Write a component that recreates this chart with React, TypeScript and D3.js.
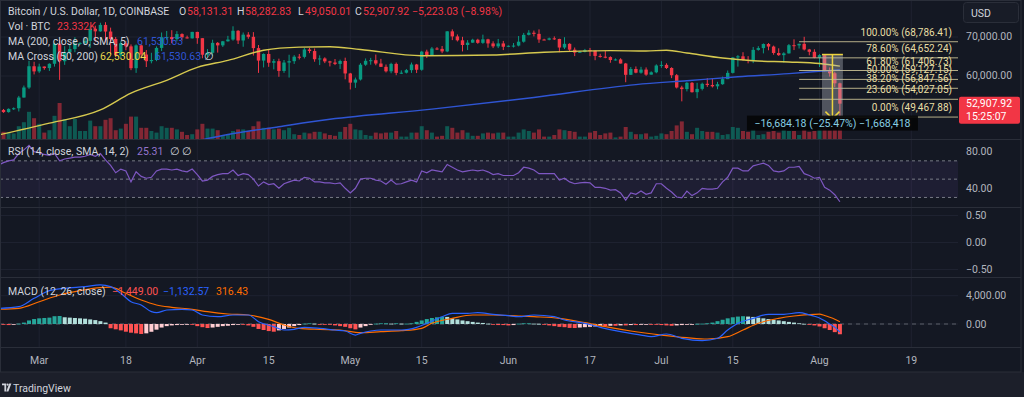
import React from "react";
import * as d3 from "d3";

// first candle (daily bars, UTC)
const firstDay = new Date(Date.UTC(2024, 1, 23));

// OHLC in thousands of USD, Feb 23 .. Aug 5 2024
const opens = [
  51.30, 50.74, 51.57, 51.73, 54.48, 57.05, 62.50,
  61.18, 62.43, 62.03, 63.13, 68.30, 63.78, 66.10, 66.90, 68.30, 68.48, 69.00, 72.10, 71.45, 73.10, 71.40, 69.50, 65.30, 68.40, 67.60, 62.00, 67.85, 65.50, 63.80, 64.10, 67.20, 69.95, 69.99, 69.45, 70.75, 69.90, 69.65,
  71.30, 69.70, 65.45, 65.95, 68.50, 67.85, 68.90, 69.35, 71.60, 69.10, 70.60, 70.05, 67.15, 63.95, 65.65, 63.40, 63.80, 61.30, 63.45, 63.80, 64.95, 64.90, 66.80, 66.40, 64.30, 64.50, 63.75, 63.45, 63.10, 63.85,
  60.65, 58.30, 59.10, 62.90, 63.90, 64.05, 63.20, 62.35, 61.20, 63.10, 60.80, 60.85, 61.50, 62.95, 61.60, 66.25, 65.25, 67.05, 66.95, 66.30, 71.45, 70.15, 69.15, 67.95, 68.55, 69.30, 68.50, 69.40, 68.35, 67.60, 68.35,
  67.50, 67.75, 67.80, 68.80, 70.55, 71.10, 70.80, 69.35, 69.30, 69.65, 69.50, 67.30, 68.25, 66.75, 66.00, 66.20, 66.65, 66.50, 65.15, 64.95, 64.85, 64.10, 64.25, 63.20, 60.30, 61.80, 60.85, 61.65, 60.35, 60.95,
  62.70, 62.85, 62.05, 60.20, 57.05, 56.65, 58.25, 55.85, 56.70, 58.00, 57.70, 57.35, 57.90, 59.20, 60.80, 64.75, 65.05, 64.10, 63.95, 66.70, 67.15, 68.20, 67.55, 65.90, 65.35, 65.80, 67.90, 67.85, 68.25, 66.80, 66.20,
  64.65, 65.35, 61.45, 60.70, 58.13131,
];
const highs = [
  51.55, 51.70, 51.95, 54.90, 57.55, 63.90, 63.65,
  63.15, 62.45, 63.25, 68.55, 69.20, 67.65, 67.99, 69.95, 68.65, 69.95, 72.80, 72.90, 73.65, 73.80, 72.40, 70.00, 68.90, 68.95, 68.10, 68.10, 68.20, 66.65, 65.95, 67.60, 71.15, 71.55, 71.75, 71.50, 70.95, 70.35, 71.35,
  71.35, 69.70, 66.90, 69.30, 68.70, 69.00, 70.30, 72.75, 71.75, 71.15, 71.25, 71.25, 67.95, 65.80, 66.90, 64.35, 64.45, 64.10, 65.45, 65.35, 65.65, 67.20, 67.20, 67.05, 65.30, 64.80, 63.90, 64.35, 64.20, 64.70,
  60.80, 59.60, 63.30, 64.50, 64.65, 65.50, 64.40, 62.95, 63.40, 63.45, 61.45, 61.80, 63.45, 63.10, 66.45, 66.75, 67.45, 67.40, 67.70, 71.50, 71.95, 70.65, 70.05, 69.20, 69.55, 69.55, 70.60, 69.55, 68.90, 69.50, 69.00,
  67.85, 68.45, 70.25, 71.05, 71.75, 71.65, 71.95, 69.55, 69.85, 70.15, 69.55, 69.95, 68.40, 67.30, 66.45, 66.95, 67.20, 66.55, 65.70, 66.45, 65.05, 64.50, 64.55, 63.35, 62.30, 62.45, 62.35, 62.20, 61.20, 63.00,
  63.80, 63.25, 62.25, 60.50, 57.50, 58.45, 58.45, 58.25, 58.30, 59.45, 59.45, 58.50, 59.85, 61.40, 64.85, 65.35, 66.10, 65.10, 67.45, 67.65, 68.35, 68.45, 67.80, 67.10, 66.10, 68.20, 69.40, 68.30, 70.05, 66.95, 66.85,
  65.60, 65.60, 62.20, 61.10, 58.28283,
];
const lows = [
  50.55, 50.60, 51.28, 50.90, 54.45, 56.70, 60.40,
  60.80, 61.60, 61.30, 62.40, 59.00, 62.85, 65.60, 66.10, 68.00, 68.10, 67.20, 68.80, 71.35, 68.60, 65.60, 64.80, 64.60, 66.60, 61.50, 60.80, 64.50, 62.30, 63.25, 63.80, 66.40, 69.30, 68.40, 68.90, 69.05, 69.60, 69.60,
  68.25, 64.55, 64.50, 65.10, 66.00, 67.45, 68.80, 69.05, 68.20, 67.50, 69.55, 65.25, 60.80, 62.20, 62.35, 61.70, 59.80, 60.80, 59.60, 63.10, 64.25, 64.50, 65.85, 63.65, 62.80, 63.30, 62.45, 62.80, 61.80, 59.15,
  56.55, 56.95, 58.85, 62.60, 62.90, 62.75, 62.30, 60.90, 60.70, 60.20, 60.50, 60.65, 60.80, 60.75, 61.35, 64.60, 65.15, 66.65, 65.85, 66.10, 69.20, 68.85, 66.30, 66.65, 68.50, 68.25, 68.25, 67.25, 67.15, 67.15, 66.65,
  67.40, 67.30, 67.60, 68.55, 70.40, 70.15, 68.50, 69.20, 69.15, 69.25, 66.10, 66.90, 66.30, 65.10, 65.90, 66.05, 65.10, 64.05, 64.70, 64.55, 63.40, 63.95, 63.20, 58.40, 60.25, 60.70, 60.60, 60.05, 60.35, 60.70,
  62.10, 61.80, 59.45, 56.80, 53.50, 56.05, 55.75, 54.30, 56.30, 57.20, 57.05, 56.60, 57.75, 59.20, 60.65, 62.40, 63.95, 63.25, 63.30, 66.50, 65.80, 66.60, 65.45, 65.15, 63.45, 65.75, 66.65, 67.05, 66.55, 65.30, 64.55,
  62.30, 61.20, 59.85, 57.15, 49.05001,
];
const closes = [
  50.74, 51.57, 51.73, 54.48, 57.05, 62.50, 61.18,
  62.43, 62.03, 63.13, 68.30, 63.78, 66.10, 66.90, 68.30, 68.48, 69.00, 72.10, 71.45, 73.10, 71.40, 69.50, 65.30, 68.40, 67.60, 62.00, 67.85, 65.50, 63.80, 64.10, 67.20, 69.95, 69.99, 69.45, 70.75, 69.90, 69.65, 71.30,
  69.70, 65.45, 65.95, 68.50, 67.85, 68.90, 69.35, 71.60, 69.10, 70.60, 70.05, 67.15, 63.95, 65.65, 63.40, 63.80, 61.30, 63.45, 63.80, 64.95, 64.90, 66.80, 66.40, 64.30, 64.50, 63.75, 63.45, 63.10, 63.85, 60.65,
  58.30, 59.10, 62.90, 63.90, 64.05, 63.20, 62.35, 61.20, 63.10, 60.80, 60.85, 61.50, 62.95, 61.60, 66.25, 65.25, 67.05, 66.95, 66.30, 71.45, 70.15, 69.15, 67.95, 68.55, 69.30, 68.50, 69.40, 68.35, 67.60, 68.35, 67.50,
  67.75, 67.80, 68.80, 70.55, 71.10, 70.80, 69.35, 69.30, 69.65, 69.50, 67.30, 68.25, 66.75, 66.00, 66.20, 66.65, 66.50, 65.15, 64.95, 64.85, 64.10, 64.25, 63.20, 60.30, 61.80, 60.85, 61.65, 60.35, 60.95, 62.70,
  62.85, 62.05, 60.20, 57.05, 56.65, 58.25, 55.85, 56.70, 58.00, 57.70, 57.35, 57.90, 59.20, 60.80, 64.75, 65.05, 64.10, 63.95, 66.70, 67.15, 68.20, 67.55, 65.90, 65.35, 65.80, 67.90, 67.85, 68.25, 66.80, 66.20, 64.65,
  65.35, 61.45, 60.70, 58.13095, 52.90792,
];
// volume, thousands of BTC
const volumes = [
  9, 8, 7, 16, 21, 34, 26,
  19, 8, 11, 29, 45, 25, 16, 25, 10, 10, 23, 16, 16, 24, 26, 11, 13, 19, 28, 28, 14, 14, 10, 8, 16, 14, 14, 12, 9, 5, 6,
  12, 19, 13, 13, 11, 5, 5, 10, 12, 12, 10, 16, 22, 14, 14, 12, 13, 11, 14, 6, 5, 8, 7, 9, 9, 7, 5, 4, 9, 15,
  19, 12, 11, 5, 4, 8, 7, 8, 8, 10, 3, 3, 8, 8, 16, 11, 8, 3, 4, 16, 14, 8, 11, 8, 4, 4, 7, 8, 7, 8, 8,
  3, 3, 8, 12, 10, 8, 12, 3, 3, 5, 12, 11, 10, 9, 3, 3, 8, 10, 5, 7, 8, 2, 3, 15, 9, 6, 6, 7, 3, 4,
  7, 6, 10, 17, 22, 9, 6, 14, 10, 9, 9, 8, 5, 6, 15, 14, 10, 9, 12, 5, 6, 9, 10, 8, 12, 10, 10, 5, 13, 9, 10,
  14, 16, 11, 12, 23.332,
];

// moving averages (day index from firstDay, value in thousands)
const ma50Days = [-1, 9, 19, 25, 32, 38, 44, 51, 58, 64, 70, 82, 96, 106, 119, 126, 130, 134, 141, 147, 154, 160, 164];
const ma50Values = [44.87, 47.9, 51.3, 55.6, 58.9, 62.2, 64.0, 66.6, 67.4, 67.5, 66.8, 65.2, 65.4, 66.1, 66.5, 66.4, 66.6, 65.9, 64.6, 63.9, 63.6, 63.2, 62.53004];
const ma200Days = [36, 44, 54, 64, 84, 104, 124, 134, 144, 154, 160, 164];
const ma200Values = [42.8, 45.0, 47.0, 48.9, 51.5, 54.5, 57.8, 58.8, 59.8, 60.6, 61.2, 61.53063];

// RSI(14), one value per day starting at day -1
const rsiValues = [
  65.5, 68, 70, 71, 78, 82, 87, 80,
  79, 77, 76, 78, 70, 72, 73, 74, 74, 75, 77, 75, 78, 71, 65, 57, 61, 59, 47, 58, 53, 51, 52, 59, 61, 61, 60, 61, 59, 58, 61,
  55, 48, 49, 53, 55, 56, 56, 60, 54, 56, 55, 50, 42.5, 47, 44, 45, 40, 45, 47, 49, 48, 52, 51, 47, 47, 46, 46, 45, 46, 40,
  35, 40, 50, 51, 51, 49, 48, 44.5, 49, 44.5, 45, 47, 49, 47, 59, 57, 60, 59, 58, 66, 63, 60, 58, 59, 60, 59, 60, 58, 55, 56, 54,
  54, 54, 57, 63, 62, 60, 56, 56, 56, 56, 49, 51, 47, 45, 46, 46.5, 46, 41, 41, 40, 38, 38.5, 35, 27, 35, 33.5, 37, 33.5, 35, 45,
  45, 40, 36, 30.5, 29.5, 37, 32, 35, 40, 39, 39, 40, 47, 52, 62, 62, 59, 59, 64.5, 66, 67.5, 65, 59, 58, 59, 63, 63, 64, 56, 54, 51,
  52, 41, 38, 33, 25.31,
];
const rsiLevels = [70, 50, 30];

// MACD (12, 26) and signal line, read at key days
const macdDays = [-1, 3, 6, 9, 12, 16, 19, 21, 23, 25, 27, 29, 30, 32, 35, 37, 39, 42, 45, 48, 50, 53, 55, 57, 59, 62, 65, 67, 69, 70, 72, 74, 78, 81, 83, 86, 88, 91, 93, 96, 99, 101, 104, 108, 110, 114, 117, 121, 125, 127, 130, 133, 137, 140, 142, 144, 147, 150, 153, 156, 158, 159, 160, 161, 162, 163, 164];
const macdValues = [2200, 2450, 3630, 4710, 5050, 5280, 5520, 5280, 4340, 3150, 2690, 1740, 1600, 1980, 2080, 1980, 1270, 1030, 1270, 1270, 330, -380, -850, -750, -470, -610, -850, -990, -1560, -1320, -990, -850, -850, -470, 100, 1030, 1510, 1510, 1600, 1370, 1170, 1030, 1270, 1030, 570, 100, -470, -1090, -1560, -1790, -1410, -2020, -2360, -2020, -850, 100, 800, 1370, 1370, 1600, 1300, 1100, 850, 450, 0, -450, -1132.57];
const signalDays = [-1, 3, 7, 11, 15, 19, 21, 24, 27, 30, 33, 37, 40, 44, 48, 52, 55, 58, 62, 66, 70, 74, 78, 82, 84, 88, 92, 96, 101, 104, 109, 114, 118, 123, 129, 134, 138, 142, 145, 148, 152, 155, 159, 160, 161, 162, 163, 164];
const signalValues = [2080, 2220, 3150, 4100, 4710, 5150, 5200, 4340, 3390, 2690, 2360, 2080, 1740, 1410, 1270, 660, -140, -610, -750, -850, -1230, -1090, -950, -610, 100, 800, 1270, 1270, 1130, 1030, 800, 190, -380, -990, -1560, -1930, -2120, -1790, -850, 100, 800, 1130, 1370, 1390, 1200, 960, 680, 316.43];
// MACD histogram, one value per day
const histValues = [
  -100, -150, -100, 50, 200, 500, 700,
  800, 850, 900, 1100, 1130, 950, 900, 850, 800, 750, 650, 550, 400, 200, -600, -750, -900, -1090, -1230, -1320, -1410, -1320, -1100, -800, -500, -300, -200, -150, -100, -50, -100,
  -300, -450, -570, -500, -400, -300, -250, -150, -50, -50, -200, -400, -700, -850, -1000, -1090, -900, -700, -500, -300, -150, 50, 100, 50, -50, -100, -100, -200, -300, -400,
  -600, -760, -500, -300, -100, 50, 100, 100, 50, 100, 50, 50, 100, 300, 500, 700, 850, 950, 1030, 1000, 800, 650, 500, 400, 300, 200, 150, 50, -100, -150, -150,
  -200, -150, 50, 100, 100, 50, 30, -50, -200, -300, -400, -450, -550, -570, -500, -450, -400, -350, -300, -300, -250, -250, -200, -200, -150, -150, -100, -50, -50, -100,
  -150, -200, -250, -200, -150, -100, -50, 30, 50, 100, 200, 400, 600, 800, 950, 1050, 1100, 1050, 1000, 900, 800, 700, 600, 500, 400, 300, 200, 100, 30, -100, -200,
  -350, -600, -850, -1150, -1449,
];

// Fibonacci retracement drawn from Jul 28
const fibStartDay = 156;
const fibRatios = [1, 0.786, 0.618, 0.5, 0.382, 0.236, 0];
const fibPrices = [68786.41, 64652.24, 61406.73, 59127.15, 56847.56, 54027.05, 49467.88];

// price range measurement (Aug 1 .. Aug 5)
const measureDays = [160, 164];
const measurePrices = [65505.2, 48821.02];

// axes
const timeTicks = ["2024-03-01", "2024-03-18", "2024-04-01", "2024-04-15", "2024-05-01", "2024-05-15", "2024-06-01", "2024-06-17", "2024-07-01", "2024-07-15", "2024-08-01", "2024-08-19"];
const timeLabels = ["Mar", "18", "Apr", "15", "May", "15", "Jun", "17", "Jul", "15", "Aug", "19"];
const priceTicks = [70, 60];
const rsiTicks = [80, 40];
const emptyTicks = [0.5, 0, -0.5];
const macdTicks = [4000, 0];

const FONT = "Roboto, 'Liberation Sans', Arial, sans-serif";
const BG = "#141823";
const GRID = "#1e2230";
const SEP = "#2a2e39";
const TXT = "#d1d4dc";
const AXT = "#b2b5be";
const UP = "#089981";
const DOWN = "#f23645";
const BLUE = "#2f55d4";
const YELLOW = "#d6c94f";
const FIB = "#e8dea3";
const RSI_C = "#7e57c2";

const fmt2 = d3.format(",.2f");

export default function App() {
  const right = 958;
  const x = d3.scaleUtc()
    .domain([firstDay, d3.utcDay.offset(firstDay, 164)])
    .range([3.5, 839.9]);
  const dx = (i: number) => x(d3.utcDay.offset(firstDay, i));

  const yP = d3.scaleLinear().domain([60, 70]).range([76, 37]);
  const yVol = d3.scaleLinear().domain([0, 45]).range([139, 103]);
  const yRsi = d3.scaleLinear().domain([40, 80]).range([188.3, 151.7]);
  const yEmpty = d3.scaleLinear().domain([-0.5, 0.5]).range([269.5, 215.5]);
  const yMacd = d3.scaleLinear().domain([0, 4000]).range([324, 295.7]);

  const panes = [
    { id: "main", top: 0, bottom: 139 },
    { id: "rsi", top: 140, bottom: 207 },
    { id: "empty", top: 208, bottom: 277 },
    { id: "macd", top: 278, bottom: 347 },
  ];

  const path = (days: number[], vals: number[], y: (v: number) => number, curve: d3.CurveFactory) =>
    d3.line<number>().x((_, k) => dx(days[k])).y((v) => y(v)).curve(curve)(vals) || "";

  const ma50Path = path(ma50Days, ma50Values, yP, d3.curveMonotoneX);
  const ma200Path = path(ma200Days, ma200Values, yP, d3.curveMonotoneX);
  const rsiPath = path(rsiValues.map((_, k) => k - 1), rsiValues, yRsi, d3.curveLinear);
  const macdPath = path(macdDays, macdValues, yMacd, d3.curveMonotoneX);
  const signalPath = path(signalDays, signalValues, yMacd, d3.curveMonotoneX);

  const n = closes.length;
  const last = n - 1;
  const chg = (closes[last] - closes[last - 1]) * 1000;
  const chgPct = chg / (closes[last - 1] * 1000);

  const histColor = (i: number) => {
    const v = histValues[i];
    const p = i > 0 ? histValues[i - 1] : v;
    if (v >= 0) return v >= p ? "#26a69a" : "#b2dfdb";
    return v <= p ? "#ff5252" : "#ffcdd2";
  };

  // measurement tool geometry
  const mx1 = dx(measureDays[0]) + 2.5;
  const mx2 = dx(measureDays[1]) + 3;
  const mxc = (mx1 + mx2) / 2;
  const myTop = yP(measurePrices[0] / 1000);
  const myBot = yP(measurePrices[1] / 1000);
  const mChange = measurePrices[1] - measurePrices[0];
  const mPct = mChange / measurePrices[0];
  const mText = `${fmt2(mChange)} (${d3.format(".2%")(mPct)}) ${d3.format(",")(Math.round(mChange * 100))}`;

  const lastY = yP(closes[last]);
  const tickX = timeTicks.map((t) => x(new Date(t + "T00:00:00Z")));

  return (
    <div style={{ position: "fixed", left: 0, top: 0, width: 1024, height: 397, background: BG }}>
      <svg width={1024} height={397} style={{ display: "block", fontFamily: FONT }}>
        <defs>
          {panes.map((p) => (
            <clipPath id={`clip-${p.id}`} key={p.id}>
              <rect x={0} y={p.top} width={right} height={p.bottom - p.top} />
            </clipPath>
          ))}
        </defs>
        <rect x={0} y={0} width={1024} height={397} fill={BG} />
        <rect x={0} y={372} width={1024} height={25} fill="#1c1f2a" />

        {/* vertical grid */}
        {tickX.map((tx, k) => (
          <line key={k} x1={tx} x2={tx} y1={0} y2={347} stroke={GRID} strokeWidth={1} />
        ))}
        {/* horizontal grid */}
        {priceTicks.map((t) => (
          <line key={`pg${t}`} x1={0} x2={right} y1={yP(t)} y2={yP(t)} stroke={GRID} />
        ))}
        {emptyTicks.map((t) => (
          <line key={`eg${t}`} x1={0} x2={right} y1={yEmpty(t)} y2={yEmpty(t)} stroke={GRID} />
        ))}
        {macdTicks.map((t) => (
          <line key={`mg${t}`} x1={0} x2={right} y1={yMacd(t)} y2={yMacd(t)} stroke={GRID} />
        ))}

        {/* main pane */}
        <g clipPath="url(#clip-main)">
          {volumes.map((v, i) => (
            <rect key={`v${i}`} x={dx(i) - 2} width={4} y={yVol(v)} height={yVol(0) - yVol(v)}
              fill={closes[i] >= opens[i] ? UP : DOWN} fillOpacity={0.5} />
          ))}
          {closes.map((c, i) => {
            const o = opens[i];
            const col = c >= o ? UP : DOWN;
            const cx = dx(i);
            const top = yP(Math.max(o, c));
            const h = Math.max(1, Math.abs(yP(o) - yP(c)));
            return (
              <g key={`c${i}`}>
                <line x1={cx} x2={cx} y1={yP(highs[i])} y2={yP(lows[i])} stroke={col} strokeWidth={1} />
                <rect x={cx - 1.7} width={3.4} y={top} height={h} fill={col} />
              </g>
            );
          })}
          <path d={ma200Path} fill="none" stroke={BLUE} strokeWidth={1.4} />
          <path d={ma50Path} fill="none" stroke={YELLOW} strokeWidth={1.4} />

          {/* fib retracement */}
          {fibPrices.map((p, k) => {
            const ly = yP(p / 1000);
            return (
              <g key={`f${k}`}>
                <line x1={dx(fibStartDay)} x2={right} y1={ly} y2={ly} stroke="#b5ae88" strokeWidth={1} />
                <text x={952} y={ly - 6} textAnchor="end" fontSize={10} fill={FIB}>
                  {`${(fibRatios[k] * 100).toFixed(2)}% (${fmt2(p)})`}
                </text>
              </g>
            );
          })}

          {/* price range measurement */}
          <rect x={mx1} y={myTop} width={mx2 - mx1} height={myBot - 2 - myTop} fill="#b4b7c0" fillOpacity={0.38} />
          <line x1={mx1} x2={mx2} y1={myTop} y2={myTop} stroke="#ecd33f" strokeWidth={1.5} />
          <line x1={mxc} x2={mxc} y1={myTop} y2={myBot} stroke="#ecd33f" strokeWidth={1.5} />
          <path d={`M${mxc - 7},${myBot - 8}L${mxc - 2},${myBot - 3}M${mxc + 7},${myBot - 8}L${mxc + 2},${myBot - 3}`} fill="none" stroke="#ecd33f" strokeWidth={1.5} />
        </g>
        <rect x={mxc - 85.5} y={myBot - 4} width={171} height={15} fill="#050608" fillOpacity={0.92} />
        <text x={mxc} y={myBot + 7.5} textAnchor="middle" fontSize={10.5} fill="#86cfe4">{mText}</text>

        {/* RSI pane */}
        <g clipPath="url(#clip-rsi)">
          <rect x={0} y={yRsi(70)} width={right} height={yRsi(30) - yRsi(70)} fill={RSI_C} fillOpacity={0.1} />
          {rsiLevels.map((l) => (
            <line key={`rl${l}`} x1={0} x2={right} y1={yRsi(l)} y2={yRsi(l)} stroke="#787b86" strokeDasharray="3 3" strokeWidth={1} />
          ))}
          <path d={rsiPath} fill="none" stroke={RSI_C} strokeWidth={1.2} />
        </g>

        {/* MACD pane */}
        <g clipPath="url(#clip-macd)">
          <line x1={0} x2={right} y1={yMacd(0)} y2={yMacd(0)} stroke="#5d606b" strokeDasharray="4 4" />
          {histValues.map((v, i) => (
            <rect key={`h${i}`} x={dx(i) - 2} width={4}
              y={Math.min(yMacd(0), yMacd(v))} height={Math.max(0.8, Math.abs(yMacd(v) - yMacd(0)))}
              fill={histColor(i)} />
          ))}
          <path d={signalPath} fill="none" stroke="#ff6d00" strokeWidth={1.2} />
          <path d={macdPath} fill="none" stroke="#2962ff" strokeWidth={1.2} />
        </g>

        {/* pane separators and frame */}
        {[139.5, 207.5, 277.5, 347.5].map((sy) => (
          <line key={`s${sy}`} x1={0} x2={1021} y1={sy} y2={sy} stroke={SEP} />
        ))}
        <rect x={0.5} y={0.5} width={1020.5} height={371.5} fill="none" stroke={SEP} />

        {/* legends */}
        <g fontSize={10.5}>
          <text x={8} y={15.2} fill={TXT}>Bitcoin / U.S. Dollar, 1D, COINBASE</text>
          <text x={179} y={15.2} fill={TXT}>O</text>
          <text x={187} y={15.2} fill={DOWN}>{fmt2(opens[last] * 1000)}</text>
          <text x={237} y={15.2} fill={TXT}>H</text>
          <text x={245} y={15.2} fill={DOWN}>{fmt2(highs[last] * 1000)}</text>
          <text x={298} y={15.2} fill={TXT}>L</text>
          <text x={305} y={15.2} fill={DOWN}>{fmt2(lows[last] * 1000)}</text>
          <text x={355} y={15.2} fill={TXT}>C</text>
          <text x={363} y={15.2} fill={DOWN}>{fmt2(closes[last] * 1000)}</text>
          <text x={412} y={15.2} fill={DOWN}>{`${fmt2(chg)} (${d3.format(".2%")(chgPct)})`}</text>

          <text x={8} y={30} fill={TXT}>Vol · BTC</text>
          <text x={57} y={30} fill={DOWN}>{`${d3.format(".3f")(volumes[last])}K`}</text>

          <text x={8} y={45} fill={TXT}>MA (200, close, 0, SMA, 5)</text>
          <text x={137} y={45} fill={BLUE}>{fmt2(ma200Values[ma200Values.length - 1] * 1000)}</text>

          <text x={8} y={60} fill={TXT}>MA Cross (50, 200)</text>
          <text x={100} y={60} fill="#e9d94c">{fmt2(ma50Values[ma50Values.length - 1] * 1000)}</text>
          <text x={155} y={60} fill={BLUE}>{fmt2(ma200Values[ma200Values.length - 1] * 1000)}</text>
          <text x={204} y={60} fill={TXT}>∅</text>

          <text x={8} y={155.2} fill={TXT}>RSI (14, close, SMA, 14, 2)</text>
          <text x={137} y={155.2} fill="#9575cd">{fmt2(rsiValues[rsiValues.length - 1])}</text>
          <text x={170} y={155.2} fill={TXT}>∅</text>
          <text x={182} y={155.2} fill={TXT}>∅</text>

          <text x={8} y={295.2} fill={TXT}>MACD (12, 26, close)</text>
          <text x={112} y={295.2} fill="#ff5252">{fmt2(histValues[histValues.length - 1])}</text>
          <text x={163} y={295.2} fill="#2962ff">{fmt2(macdValues[macdValues.length - 1])}</text>
          <text x={216} y={295.2} fill="#ff6d00">{fmt2(signalValues[signalValues.length - 1])}</text>
        </g>

        {/* price scale */}
        <g fontSize={10.5} fill={AXT}>
          {priceTicks.map((t) => (
            <text key={`pt${t}`} x={966} y={yP(t) + 2.5}>{fmt2(t * 1000)}</text>
          ))}
          {rsiTicks.map((t) => (
            <text key={`rt${t}`} x={966} y={yRsi(t) + 3.5}>{fmt2(t)}</text>
          ))}
          {emptyTicks.map((t) => (
            <text key={`et${t}`} x={966} y={yEmpty(t) + 3.5}>{fmt2(t)}</text>
          ))}
          {macdTicks.map((t) => (
            <text key={`mt${t}`} x={966} y={yMacd(t) + 3.5}>{fmt2(t)}</text>
          ))}
        </g>
        <rect x={963.5} y={2.5} width={55} height={20} rx={3} fill="#181c27" stroke={SEP} />
        <text x={971} y={16.5} fontSize={10.5} fill={TXT}>USD</text>
        <rect x={959} y={lastY - 7} width={61} height={27} rx={2} fill={DOWN} />
        <text x={966} y={lastY + 3.5} fontSize={10.5} fill="#ffffff">{fmt2(closes[last] * 1000)}</text>
        <text x={966} y={lastY + 16} fontSize={10.5} fill="#ffffff">15:25:07</text>

        {/* time scale */}
        <g fontSize={10.5} fill={AXT}>
          {tickX.map((tx, k) => (
            <text key={`tl${k}`} x={tx} y={364} textAnchor="middle">{timeLabels[k]}</text>
          ))}
        </g>

        {/* footer logo */}
        <g fill={TXT}>
          <path d="M2,383.5h4.2v8h-1.8v-6.2h-2.4z" />
          <circle cx={7.6} cy={384.6} r={1.1} />
          <path d="M9.2,383.5h2.2l-3,8h-2.1z" />
          <text x={13} y={391.5} fontSize={10.5} fill={TXT}>TradingView</text>
        </g>
      </svg>
    </div>
  );
}
